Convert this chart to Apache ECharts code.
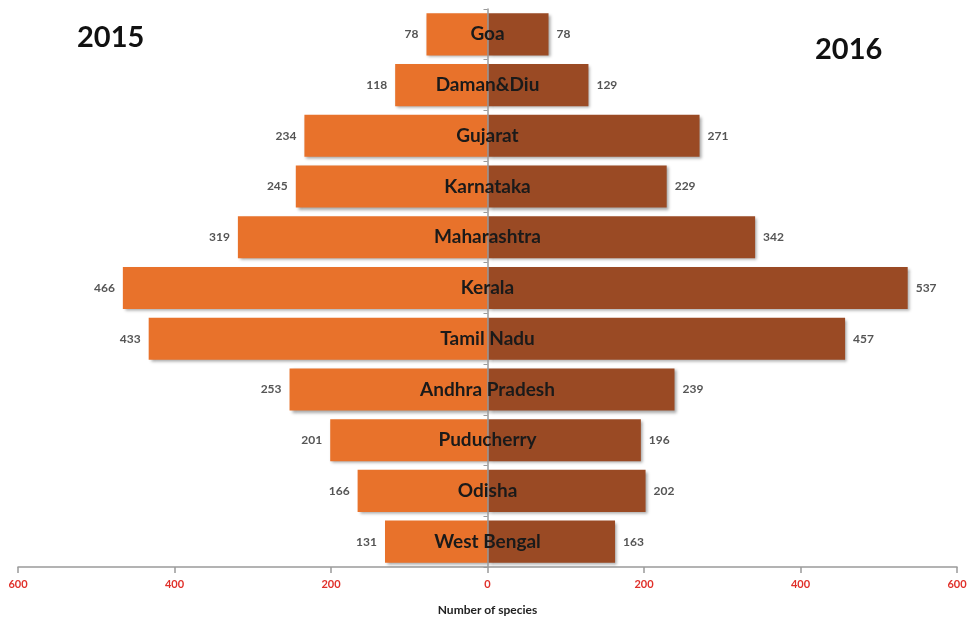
<!DOCTYPE html>
<html>
<head>
<meta charset="utf-8">
<script src="https://cdn.jsdelivr.net/npm/echarts@6/dist/echarts.min.js"></script>
<style>
  html, body { margin: 0; padding: 0; background: #fff; }
  #main { width: 968px; height: 620px; }
</style>
</head>
<body>
<div id="main"></div>
<script>
var states = ['Goa', 'Daman&Diu', 'Gujarat', 'Karnataka', 'Maharashtra', 'Kerala',
              'Tamil Nadu', 'Andhra Pradesh', 'Puducherry', 'Odisha', 'West Bengal'];
var species2015 = [78, 118, 234, 245, 319, 466, 433, 253, 201, 166, 131];
var species2016 = [78, 129, 271, 229, 342, 537, 457, 239, 196, 202, 163];
var xTicks = [-600, -400, -200, 0, 200, 400, 600];

var myChart = echarts.init(document.getElementById('main'));

var barShadow = {
    shadowBlur: 3,
    shadowOffsetX: 2,
    shadowOffsetY: 2,
    shadowColor: 'rgba(0,0,0,0.35)'
};

// grid: left 18, right 11 -> zero line sits at half width
var gridLeft = 18, gridRight = 11;
var halfWidth = (968 - gridLeft - gridRight) / 2;

var option = {
    animation: false,
    textStyle: { fontFamily: 'Lato' },
    title: [
        { text: '2015', left: 72, top: 18,
          textStyle: { fontSize: 29, fontWeight: 'bold', color: '#111', fontFamily: 'Lato' } },
        { text: '2016', left: 810, top: 30,
          textStyle: { fontSize: 29, fontWeight: 'bold', color: '#111', fontFamily: 'Lato' } }
    ],
    grid: {
        left: gridLeft,
        right: gridRight,
        top: 9,
        bottom: 53,
        containLabel: false,
        outerBoundsMode: 'none'
    },
    xAxis: {
        type: 'value',
        min: -600,
        max: 600,
        interval: 200,
        splitLine: { show: false },
        axisLine: { show: true, lineStyle: { color: '#9a9a9a', width: 1.5 } },
        axisTick: { show: true, length: 6, lineStyle: { color: '#9a9a9a', width: 1.5 } },
        axisLabel: {
            margin: 12,
            color: '#e0302a',
            fontSize: 11,
            fontWeight: 'bold',
            hideOverlap: false,
            formatter: function (v) { return xTicks.indexOf(v) >= 0 ? Math.abs(v) : ''; }
        },
        name: 'Number of species',
        nameLocation: 'middle',
        nameGap: 37,
        nameTextStyle: { fontSize: 12, fontWeight: 'bold', color: '#222' }
    },
    yAxis: {
        type: 'category',
        data: states,
        inverse: true,
        position: 'left',
        offset: -halfWidth,
        z: 10,
        axisLine: { show: true, onZero: false, lineStyle: { color: '#9a9a9a', width: 1.5 } },
        axisTick: { show: true, length: 4, lineStyle: { color: '#9a9a9a' } },
        axisLabel: {
            align: 'center',
            margin: 0,
            fontSize: 19,
            fontWeight: 'bold',
            color: '#1a1a1a',
            hideOverlap: false
        }
    },
    series: [
        {
            name: '2015',
            type: 'bar',
            stack: 'all',
            barCategoryGap: '17%',
            data: species2015.map(function (v) { return -v; }),
            itemStyle: Object.assign({ color: '#e8722b' }, barShadow),
            label: {
                show: true,
                position: 'left',
                distance: 8,
                color: '#555',
                fontSize: 12,
                fontWeight: 'bold',
                formatter: function (p) { return Math.abs(p.value); }
            }
        },
        {
            name: '2016',
            type: 'bar',
            stack: 'all',
            barCategoryGap: '17%',
            data: species2016,
            itemStyle: Object.assign({ color: '#9a4a24' }, barShadow),
            label: {
                show: true,
                position: 'right',
                distance: 8,
                color: '#555',
                fontSize: 12,
                fontWeight: 'bold'
            }
        }
    ]
};

myChart.setOption(option);
</script>
</body>
</html>
